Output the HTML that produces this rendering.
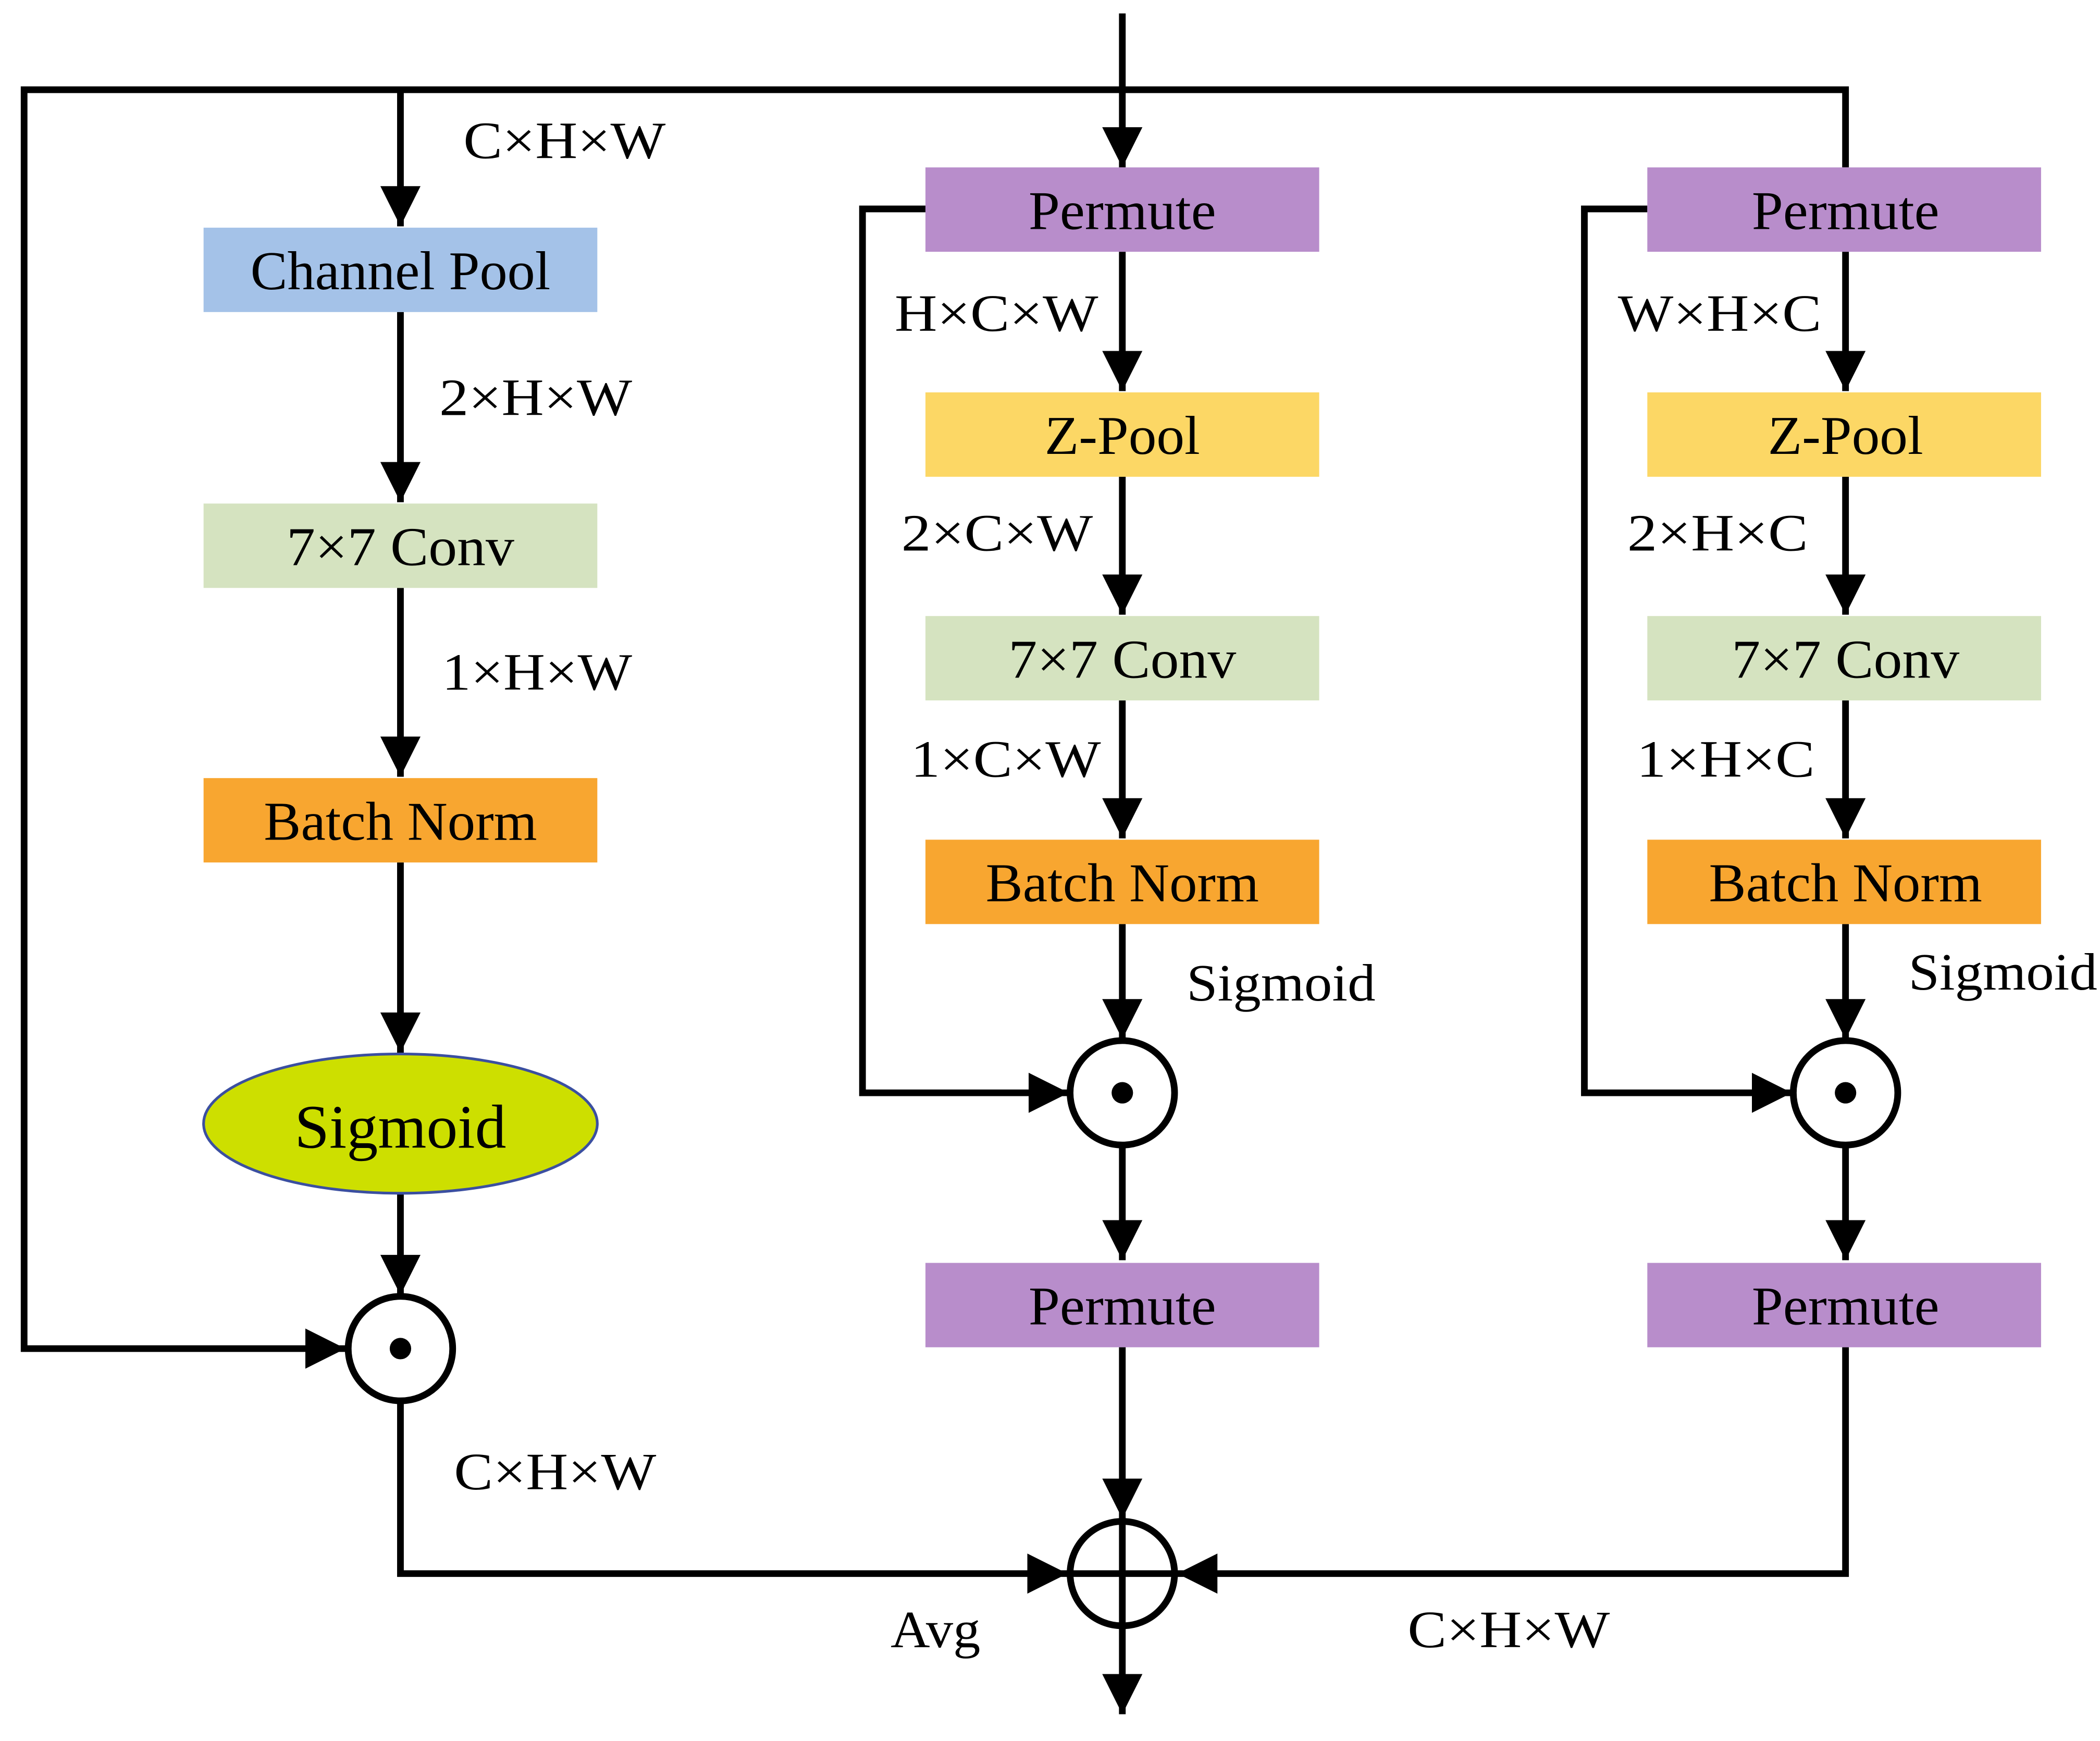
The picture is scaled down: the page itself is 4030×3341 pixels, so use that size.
<!DOCTYPE html>
<html><head><meta charset="utf-8"><style>
html,body{margin:0;padding:0;background:#fff;}
svg{display:block;}
text{font-family:"Liberation Serif",serif;fill:#000;}
</style></head><body>
<svg width="4030" height="3341" viewBox="0 0 1568 1300" preserveAspectRatio="none" xmlns="http://www.w3.org/2000/svg">
<defs>
<marker id="a" viewBox="0 0 10 10" refX="10" refY="5" markerWidth="6" markerHeight="6" markerUnits="strokeWidth" orient="auto">
<path d="M0,0 L10,5 L0,10 z" fill="#000"/></marker>
</defs>
<g stroke="#000" stroke-width="5" fill="none">
<line x1="838" y1="10" x2="838" y2="125" marker-end="url(#a)"/>
<polyline points="1378,125 1378,67 18,67 18,1007 258,1007" marker-end="url(#a)"/>
<line x1="299" y1="67" x2="299" y2="169" marker-end="url(#a)"/>
<line x1="299" y1="233" x2="299" y2="375" marker-end="url(#a)"/>
<line x1="299" y1="439" x2="299" y2="580" marker-end="url(#a)"/>
<line x1="299" y1="644" x2="299" y2="786" marker-end="url(#a)"/>
<line x1="299" y1="891" x2="299" y2="967" marker-end="url(#a)"/>
<polyline points="299,1046 299,1175 797,1175" marker-end="url(#a)"/>
<line x1="838" y1="188" x2="838" y2="292" marker-end="url(#a)"/>
<line x1="838" y1="356" x2="838" y2="459" marker-end="url(#a)"/>
<line x1="838" y1="523" x2="838" y2="626" marker-end="url(#a)"/>
<line x1="838" y1="690" x2="838" y2="776" marker-end="url(#a)"/>
<polyline points="691,156 644,156 644,816 798,816" marker-end="url(#a)"/>
<line x1="838" y1="855" x2="838" y2="941" marker-end="url(#a)"/>
<line x1="838" y1="1006" x2="838" y2="1134" marker-end="url(#a)"/>
<line x1="838" y1="1215" x2="838" y2="1280" marker-end="url(#a)"/>
<line x1="1378" y1="188" x2="1378" y2="292" marker-end="url(#a)"/>
<line x1="1378" y1="356" x2="1378" y2="459" marker-end="url(#a)"/>
<line x1="1378" y1="523" x2="1378" y2="626" marker-end="url(#a)"/>
<line x1="1378" y1="690" x2="1378" y2="776" marker-end="url(#a)"/>
<polyline points="1230,156 1183,156 1183,816 1338,816" marker-end="url(#a)"/>
<line x1="1378" y1="855" x2="1378" y2="941" marker-end="url(#a)"/>
<polyline points="1378,1006 1378,1175 879,1175" marker-end="url(#a)"/>
</g>
<rect x="152" y="170" width="294" height="63" fill="#a4c2e8"/>
<rect x="152" y="376" width="294" height="63" fill="#d5e3c0"/>
<rect x="152" y="581" width="294" height="63" fill="#f8a630"/>
<ellipse cx="299" cy="839" rx="147" ry="52" fill="#cddf00" stroke="#3b4fa0" stroke-width="2"/>
<rect x="691" y="125" width="294" height="63" fill="#b88dcb"/>
<rect x="691" y="293" width="294" height="63" fill="#fcd765"/>
<rect x="691" y="460" width="294" height="63" fill="#d5e3c0"/>
<rect x="691" y="627" width="294" height="63" fill="#f8a630"/>
<rect x="691" y="943" width="294" height="63" fill="#b88dcb"/>
<rect x="1230" y="125" width="294" height="63" fill="#b88dcb"/>
<rect x="1230" y="293" width="294" height="63" fill="#fcd765"/>
<rect x="1230" y="460" width="294" height="63" fill="#d5e3c0"/>
<rect x="1230" y="627" width="294" height="63" fill="#f8a630"/>
<rect x="1230" y="943" width="294" height="63" fill="#b88dcb"/>
<g stroke="#000" stroke-width="5" fill="#fff">
<circle cx="299" cy="1007" r="39"/>
<circle cx="838" cy="816" r="39"/>
<circle cx="1378" cy="816" r="39"/>
<circle cx="838" cy="1175" r="39"/>
</g>
<g fill="#000"><circle cx="299" cy="1007" r="8"/><circle cx="838" cy="816" r="8"/><circle cx="1378" cy="816" r="8"/></g>
<g stroke="#000" stroke-width="5"><line x1="838" y1="1136" x2="838" y2="1214"/><line x1="799" y1="1175" x2="877" y2="1175"/></g>
<g font-size="41" text-anchor="middle">
<text x="299" y="216" textLength="224" lengthAdjust="spacingAndGlyphs">Channel Pool</text>
<text x="299" y="422" textLength="170" lengthAdjust="spacingAndGlyphs">7×7 Conv</text>
<text x="299" y="627" textLength="204" lengthAdjust="spacingAndGlyphs">Batch Norm</text>
<text x="299" y="857" font-size="46" textLength="158" lengthAdjust="spacingAndGlyphs">Sigmoid</text>
<text x="838" y="171" textLength="140" lengthAdjust="spacingAndGlyphs">Permute</text>
<text x="838" y="339" textLength="116" lengthAdjust="spacingAndGlyphs">Z-Pool</text>
<text x="838" y="506" textLength="170" lengthAdjust="spacingAndGlyphs">7×7 Conv</text>
<text x="838" y="673" textLength="204" lengthAdjust="spacingAndGlyphs">Batch Norm</text>
<text x="838" y="989" textLength="140" lengthAdjust="spacingAndGlyphs">Permute</text>
<text x="1378" y="171" textLength="140" lengthAdjust="spacingAndGlyphs">Permute</text>
<text x="1378" y="339" textLength="116" lengthAdjust="spacingAndGlyphs">Z-Pool</text>
<text x="1378" y="506" textLength="170" lengthAdjust="spacingAndGlyphs">7×7 Conv</text>
<text x="1378" y="673" textLength="204" lengthAdjust="spacingAndGlyphs">Batch Norm</text>
<text x="1378" y="989" textLength="140" lengthAdjust="spacingAndGlyphs">Permute</text>
</g>
<g font-size="39">
<text x="346" y="118" textLength="151" lengthAdjust="spacingAndGlyphs">C×H×W</text>
<text x="328" y="310" textLength="144" lengthAdjust="spacingAndGlyphs">2×H×W</text>
<text x="330" y="515" textLength="142" lengthAdjust="spacingAndGlyphs">1×H×W</text>
<text x="668" y="247" textLength="152" lengthAdjust="spacingAndGlyphs">H×C×W</text>
<text x="1208" y="247" textLength="152" lengthAdjust="spacingAndGlyphs">W×H×C</text>
<text x="673" y="411" textLength="143" lengthAdjust="spacingAndGlyphs">2×C×W</text>
<text x="1215" y="411" textLength="135" lengthAdjust="spacingAndGlyphs">2×H×C</text>
<text x="680" y="580" textLength="142" lengthAdjust="spacingAndGlyphs">1×C×W</text>
<text x="1222" y="580" textLength="133" lengthAdjust="spacingAndGlyphs">1×H×C</text>
<text x="886" y="747" textLength="141" lengthAdjust="spacingAndGlyphs">Sigmoid</text>
<text x="1425" y="739" textLength="141" lengthAdjust="spacingAndGlyphs">Sigmoid</text>
<text x="339" y="1112" textLength="151" lengthAdjust="spacingAndGlyphs">C×H×W</text>
<text x="665" y="1230" textLength="67" lengthAdjust="spacingAndGlyphs">Avg</text>
<text x="1051" y="1230" textLength="151" lengthAdjust="spacingAndGlyphs">C×H×W</text>
</g>
</svg>
</body></html>
